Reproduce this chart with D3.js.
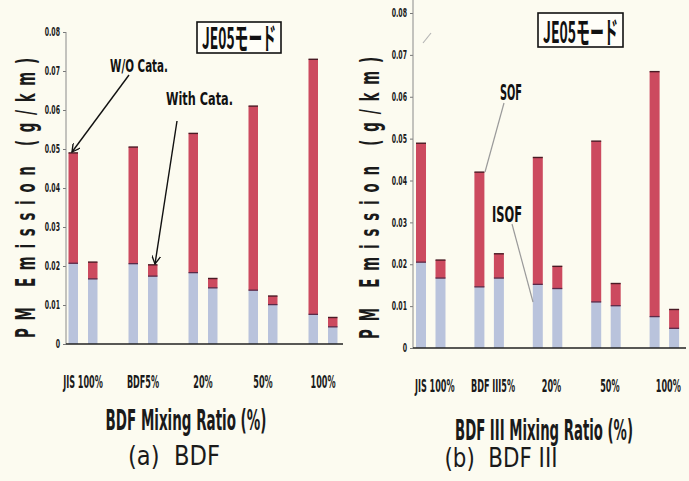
<!DOCTYPE html>
<html>
<head>
<meta charset="utf-8">
<script src="https://cdn.jsdelivr.net/npm/d3@7/dist/d3.min.js"></script>
<style>
  html, body { margin: 0; padding: 0; background: #fcfbf0; }
  svg { display: block; }
</style>
</head>
<body>
<svg id="chart" width="689" height="481"></svg>
<script>
// ---- data (g/km) ----
const categoriesA = ["JIS 100%", "BDF5%", "20%", "50%", "100%"];
const categoriesB = ["JIS 100%", "BDF III5%", "20%", "50%", "100%"];
const yTicks = [0, 0.01, 0.02, 0.03, 0.04, 0.05, 0.06, 0.07, 0.08];

// (a) BDF
const woIsofA   = [0.0207, 0.0206, 0.0183, 0.0138, 0.0076];
const woSofA    = [0.0283, 0.0299, 0.0357, 0.0472, 0.0654];
const withIsofA = [0.0167, 0.0174, 0.0144, 0.0101, 0.0044];
const withSofA  = [0.0043, 0.0029, 0.0024, 0.0022, 0.0024];

// (b) BDF III
const woIsofB   = [0.0205, 0.0146, 0.0152, 0.0110, 0.0075];
const woSofB    = [0.0284, 0.0274, 0.0303, 0.0384, 0.0585];
const withIsofB = [0.0167, 0.0167, 0.0142, 0.0101, 0.0047];
const withSofB  = [0.0043, 0.0058, 0.0053, 0.0053, 0.0045];

const SOF_COLOR = "#cc4a5f";
const ISOF_COLOR = "#b9c3dc";
const COND = "'DejaVu Sans Condensed', 'DejaVu Sans', sans-serif";
const CJK = "'Noto Sans CJK JP', 'DejaVu Sans Condensed', sans-serif";

const svg = d3.select("#chart");

// narrow a text horizontally by a factor, keeping its anchor point
function narrow(node, k) {
  const s = d3.select(node);
  const x = +s.attr("x") || 0, y = +s.attr("y") || 0;
  s.attr("x", 0).attr("y", 0)
    .attr("transform", `translate(${x},${y}) scale(${k},1)`);
}
function squeeze(sel, f) {
  sel.each(function () { narrow(this, f); });
}
function fit(sel, len) {
  sel.each(function () { narrow(this, len / this.getComputedTextLength()); });
}

svg.append("defs").append("marker")
  .attr("id", "arrow").attr("viewBox", "0 0 10 10")
  .attr("refX", 9).attr("refY", 5)
  .attr("markerWidth", 9).attr("markerHeight", 9)
  .attr("markerUnits", "userSpaceOnUse")
  .attr("orient", "auto")
  .append("path").attr("d", "M0,0 L9,5 L0,10")
  .attr("fill", "none").attr("stroke", "#111").attr("stroke-width", 1.5);

function panel(cfg) {
  const g = svg.append("g");
  const y = d3.scaleLinear().domain([0, 0.08]).range([cfg.y0, cfg.y1]);
  const x0 = d3.scaleBand().domain(cfg.cats).range(cfg.xRange).padding(0);
  const x1 = d3.scaleBand().domain(["wo", "with"]).range(cfg.innerRange).paddingInner(cfg.innerPad);

  // y axis
  const ya = g.append("g").attr("transform", `translate(${cfg.axisX},0)`)
    .call(d3.axisLeft(y).tickValues(yTicks).tickSize(3).tickPadding(3)
      .tickFormat(d => d === 0 ? "0" : d3.format(".2f")(d)));
  ya.select(".domain").remove();
  ya.selectAll(".tick line").attr("stroke", "#777");
  ya.selectAll(".tick text").attr("font-family", COND).attr("font-weight", "bold")
    .attr("font-size", 11.5).attr("fill", "#1a1a1a").call(squeeze, 0.6);
  g.append("line").attr("x1", cfg.axisX).attr("x2", cfg.axisX)
    .attr("y1", cfg.axisTop).attr("y2", y(0))
    .attr("stroke", "#8a8a8a").attr("stroke-width", 1);

  // stacked bars
  const rows = cfg.cats.map((c, i) => ([
    { cat: c, key: "wo", isof: cfg.woIsof[i], sof: cfg.woSof[i] },
    { cat: c, key: "with", isof: cfg.withIsof[i], sof: cfg.withSof[i] }
  ])).flat();

  const bars = g.append("g").selectAll("g").data(rows).join("g")
    .attr("transform", d => `translate(${x0(d.cat) + x1(d.key)},0)`);
  const bw = x1.bandwidth();
  bars.append("rect").attr("x", 0).attr("width", bw)
    .attr("y", d => y(d.isof)).attr("height", d => y(0) - y(d.isof))
    .attr("fill", ISOF_COLOR);
  bars.append("rect").attr("x", 0).attr("width", bw)
    .attr("y", d => y(d.isof + d.sof)).attr("height", d => y(d.isof) - y(d.isof + d.sof))
    .attr("fill", SOF_COLOR);
  bars.append("line").attr("x1", 0).attr("x2", bw)
    .attr("y1", d => y(d.isof)).attr("y2", d => y(d.isof))
    .attr("stroke", "#5a2a48").attr("stroke-width", 1.3);
  bars.append("line").attr("x1", 0).attr("x2", bw)
    .attr("y1", d => y(d.isof + d.sof)).attr("y2", d => y(d.isof + d.sof))
    .attr("stroke", "#4a1a24").attr("stroke-width", 1.4);

  // baseline
  g.append("line").attr("x1", cfg.axisX).attr("x2", cfg.baseEnd)
    .attr("y1", y(0)).attr("y2", y(0))
    .attr("stroke", "#222").attr("stroke-width", 1.5);

  // category labels
  const xa = g.append("g").attr("transform", `translate(${cfg.labelDx},${cfg.labelY})`)
    .call(d3.axisBottom(x0).tickSize(0).tickPadding(0));
  xa.select(".domain").remove();
  xa.selectAll(".tick text").attr("font-family", COND).attr("font-weight", "bold")
    .attr("font-size", 18).attr("fill", "#1a1a1a").call(squeeze, 0.5);

  // y title: narrow glyphs spread along the axis
  const yk = 0.55;
  g.append("text")
    .attr("transform", `translate(${cfg.yTitleX},${cfg.yTitleY}) rotate(-90) scale(${yk},1)`)
    .attr("text-anchor", "middle").attr("font-family", COND).attr("font-weight", "bold")
    .attr("font-size", 27).attr("fill", "#1a1a1a")
    .text("PM Emission (g/km)")
    .attr("textLength", cfg.yTitleLen / yk).attr("lengthAdjust", "spacing");

  g.append("text").attr("x", cfg.xTitleX).attr("y", cfg.xTitleY)
    .attr("text-anchor", "middle").attr("font-family", COND).attr("font-weight", "bold")
    .attr("font-size", 28).attr("fill", "#1a1a1a")
    .text(cfg.xTitle).call(fit, cfg.xTitleLen);
  g.append("text").attr("x", cfg.capX).attr("y", cfg.capY)
    .attr("text-anchor", "middle").attr("font-family", "'DejaVu Sans', sans-serif")
    .attr("font-size", 26).attr("fill", "#1a1a1a")
    .attr("xml:space", "preserve")
    .text(cfg.caption).call(fit, cfg.capLen);

  // mode box
  g.append("rect").attr("x", cfg.box[0]).attr("y", cfg.box[1])
    .attr("width", cfg.box[2]).attr("height", cfg.box[3])
    .attr("fill", "#fffef8").attr("stroke", "#111").attr("stroke-width", 1.6);
  g.append("text").attr("x", cfg.box[0] + cfg.box[2] / 2).attr("y", cfg.box[1] + cfg.box[3] - 4)
    .attr("text-anchor", "middle").attr("font-family", CJK).attr("font-weight", "bold")
    .attr("font-size", 30).attr("fill", "#111")
    .text("JE05モード").call(fit, cfg.box[2] - 10);

  return { g, x0, x1, y };
}

const A = panel({
  cats: categoriesA, woIsof: woIsofA, woSof: woSofA, withIsof: withIsofA, withSof: withSofA,
  y0: 344, y1: 32, axisX: 66, axisTop: 32, baseEnd: 343,
  xRange: [53, 353], innerRange: [15.5, 44.5], innerPad: 0.513,
  labelDx: 0, labelY: 375,
  yTitleX: 35, yTitleY: 198, yTitleLen: 280,
  xTitle: "BDF Mixing Ratio (%)", xTitleX: 186, xTitleY: 430, xTitleLen: 161,
  caption: "(a)  BDF", capX: 174, capY: 465, capLen: 92,
  box: [197, 22, 84, 31]
});

const B = panel({
  cats: categoriesB, woIsof: woIsofB, woSof: woSofB, withIsof: withIsofB, withSof: withSofB,
  y0: 348, y1: 13, axisX: 413, axisTop: 0, baseEnd: 686,
  xRange: [401.5, 693.5], innerRange: [14.5, 44], innerPad: 0.487,
  labelDx: 4, labelY: 379,
  yTitleX: 379, yTitleY: 198, yTitleLen: 282,
  xTitle: "BDF III Mixing Ratio (%)", xTitleX: 544, xTitleY: 440, xTitleLen: 178,
  caption: "(b)  BDF III", capX: 501, capY: 467, capLen: 113,
  box: [538, 13, 85, 34]
});

// annotations, panel (a)
const ann = svg.append("g").attr("font-family", COND).attr("font-weight", "bold").attr("fill", "#111");
ann.append("text").attr("x", 110).attr("y", 72).attr("font-size", 17).text("W/O Cata.").call(fit, 58);
ann.append("text").attr("x", 166).attr("y", 105).attr("font-size", 17).text("With Cata.").call(fit, 67);
svg.append("line").attr("x1", 129).attr("y1", 75).attr("x2", 72).attr("y2", 152)
  .attr("stroke", "#111").attr("stroke-width", 1.4).attr("marker-end", "url(#arrow)");
svg.append("line").attr("x1", 177).attr("y1", 121).attr("x2", 155).attr("y2", 264)
  .attr("stroke", "#111").attr("stroke-width", 1.4).attr("marker-end", "url(#arrow)");

// annotations, panel (b)
ann.append("text").attr("x", 500).attr("y", 100).attr("font-size", 21).text("SOF").call(fit, 22);
ann.append("text").attr("x", 492).attr("y", 222).attr("font-size", 21).text("ISOF").call(fit, 30);
svg.append("line").attr("x1", 504).attr("y1", 103).attr("x2", 485).attr("y2", 172)
  .attr("stroke", "#9a9a9a").attr("stroke-width", 1.2);
svg.append("line").attr("x1", 512).attr("y1", 224).attr("x2", 533).attr("y2", 302)
  .attr("stroke", "#9a9a9a").attr("stroke-width", 1.2);
svg.append("line").attr("x1", 423).attr("y1", 43).attr("x2", 431).attr("y2", 33)
  .attr("stroke", "#b5b5b5").attr("stroke-width", 1.2);
</script>
</body>
</html>
